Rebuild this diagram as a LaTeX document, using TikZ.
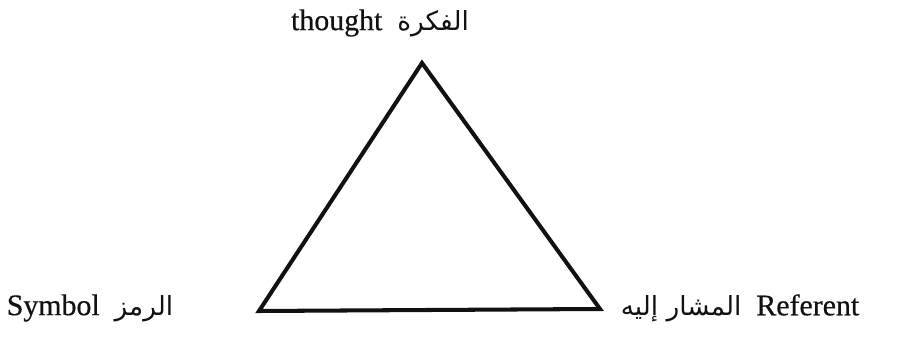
\documentclass[tikz,border=0pt]{standalone}
\usepackage{fontspec}
\setmainfont[FakeBold=0.5]{Liberation Serif}
\newfontfamily\arabicfont[Script=Arabic]{DejaVu Sans}
\TeXXeTstate=1
\usepackage{tikz}
\usetikzlibrary{positioning}
\usepackage{xcolor}
\definecolor{inkblack}{HTML}{111111}
\newcommand{\artext}[1]{{\arabicfont\fontsize{15}{18}\selectfont\beginR #1\endR}}
\tikzset{
  termtext/.style={inner sep=1pt, text=inkblack, font=\fontsize{17}{20}\selectfont},
  triside/.style={draw=inkblack, line width=2.3pt}
}
\begin{document}
\begin{tikzpicture}[x=0.02cm,y=-0.02cm]
  \useasboundingbox (0,0) rectangle (904,337);
  % corners of the triangle
  \coordinate (apex) at (422,63);
  \coordinate (baseL) at (259,311);
  \coordinate (baseR) at (600,309);
  \draw[triside] (apex) -- (baseR) -- (baseL) -- cycle;
  % terms
  \node[termtext] (thought) at (380,23) {thought\ \ \artext{الفكرة}};
  \node[termtext] (symbol) at (90,308) {Symbol\ \ \artext{الرمز}};
  \node[termtext] (referent) at (740,308) {\artext{المشار إليه}\ \ Referent};
\end{tikzpicture}
\end{document}
